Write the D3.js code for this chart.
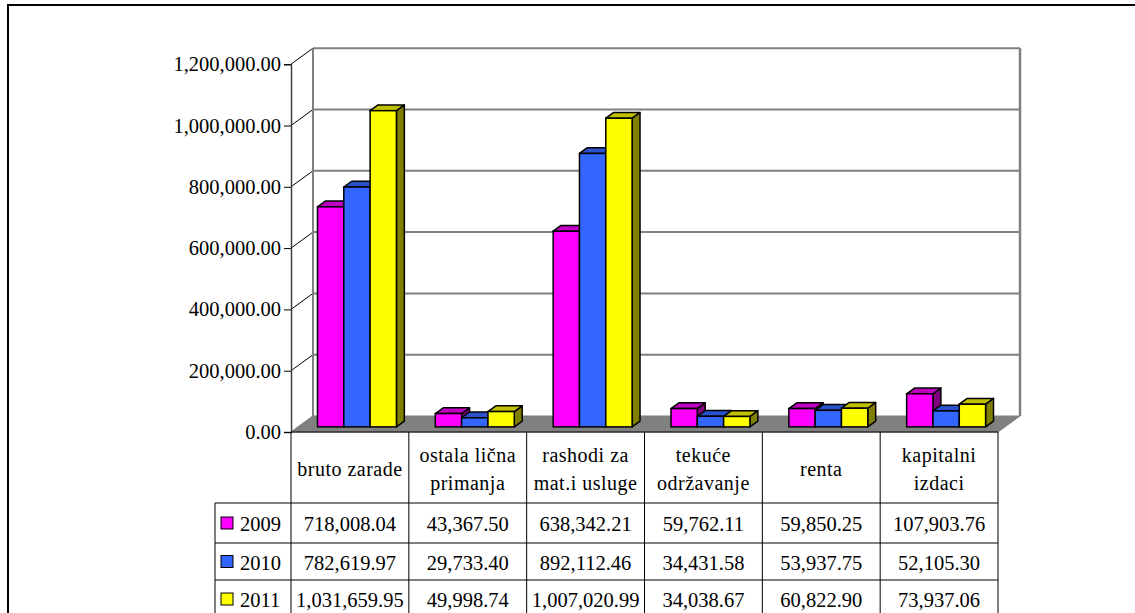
<!DOCTYPE html>
<html>
<head>
<meta charset="utf-8">
<script src="https://cdn.jsdelivr.net/npm/d3@7"></script>
<style>
  body { margin: 0; background: #fff; }
</style>
</head>
<body>
<div id="chart"></div>
<script>
// data
const categories = ['bruto zarade', 'ostala lična primanja', 'rashodi za mat.i usluge', 'tekuće održavanje', 'renta', 'kapitalni izdaci']
const categoryLines = [['bruto zarade'], ['ostala lična', 'primanja'], ['rashodi za', 'mat.i usluge'], ['tekuće', 'održavanje'], ['renta'], ['kapitalni', 'izdaci']]
const years = ['2009', '2010', '2011']
const values2009 = [718008.04, 43367.50, 638342.21, 59762.11, 59850.25, 107903.76]
const values2010 = [782619.97, 29733.40, 892112.46, 34431.58, 53937.75, 52105.30]
const values2011 = [1031659.95, 49998.74, 1007020.99, 34038.67, 60822.90, 73937.06]
const yTicks = [0, 200000, 400000, 600000, 800000, 1000000, 1200000]

const series = [values2009, values2010, values2011]
const colors = [
  { front: '#ff00ff', top: '#c000c0', side: '#800080' },
  { front: '#3366ff', top: '#2952cc', side: '#1a3380' },
  { front: '#ffff00', top: '#c0c000', side: '#808000' }
]

const width = 1135
const height = 613
const plot = { left: 291, right: 998, top: 64.2, bottom: 432 }
const depth = { dx: 22, dy: -16 }
const rowY = [503, 543, 580, 618]
const legendLeft = 215
const fmt = d3.format(',.2f')
const serif = 'Liberation Serif'

const svg = d3.select('#chart').append('svg')
  .attr('width', width)
  .attr('height', height)

// outer frame
svg.append('rect')
  .attr('x', 8).attr('y', 5)
  .attr('width', 1140).attr('height', 620)
  .attr('fill', 'none').attr('stroke', '#000').attr('stroke-width', 2)

const yScale = d3.scaleLinear().domain([0, 1200000]).range([plot.bottom, plot.top])
const xScale = d3.scaleBand().domain(categories).range([plot.left, plot.right])
const bw = xScale.bandwidth()
const xSub = d3.scaleBand().domain(years).range([bw * 0.165, bw * 0.835])

function translation (x, y) {
  return 'translate(' + x + ',' + y + ')'
}

function pts (arr) {
  return arr.map(function (p) { return p.join(',') }).join(' ')
}

function label (sel, size) {
  return sel.attr('font-family', serif).attr('font-size', size).attr('fill', '#000')
}

// walls
const grid = svg.append('g')
grid.append('polygon')
  .attr('points', pts([[plot.left, plot.bottom], [plot.right, plot.bottom],
    [plot.right + depth.dx, plot.bottom + depth.dy], [plot.left + depth.dx, plot.bottom + depth.dy]]))
  .attr('fill', '#808080')
  .attr('stroke', '#808080')

yTicks.forEach(function (t) {
  const y = yScale(t)
  if (t > 0) {
    grid.append('line')
      .attr('x1', plot.left + depth.dx).attr('x2', plot.right + depth.dx)
      .attr('y1', y + depth.dy).attr('y2', y + depth.dy)
      .attr('stroke', '#808080').attr('stroke-width', 2)
  }
  grid.append('line')
    .attr('x1', plot.left).attr('x2', plot.left + depth.dx)
    .attr('y1', y).attr('y2', y + depth.dy)
    .attr('stroke', t > 0 ? '#000' : '#808080').attr('stroke-width', 1)
})
grid.append('line')
  .attr('x1', plot.left + depth.dx).attr('x2', plot.left + depth.dx)
  .attr('y1', yScale(1200000) + depth.dy).attr('y2', plot.bottom + depth.dy)
  .attr('stroke', '#808080').attr('stroke-width', 2)
grid.append('line')
  .attr('x1', plot.right + depth.dx).attr('x2', plot.right + depth.dx)
  .attr('y1', yScale(1200000) + depth.dy).attr('y2', plot.bottom + depth.dy)
  .attr('stroke', '#808080').attr('stroke-width', 2.5)

// y axis
const yAxis = d3.axisLeft(yScale)
  .tickValues(yTicks)
  .tickFormat(fmt)
  .tickSize(7)
  .tickPadding(3)
const yAxisG = svg.append('g')
  .attr('transform', translation(plot.left, 0))
  .call(yAxis)
yAxisG.select('.domain').attr('stroke', '#404040').attr('stroke-width', 1.5)
yAxisG.selectAll('.tick line').attr('stroke', '#000')
label(yAxisG.selectAll('.tick text'), 20.5)

// bars
const bf = 0.32
const bd = 0.36
const ox = depth.dx * bf
const oy = depth.dy * bf
const bx = depth.dx * bd
const by = depth.dy * bd
const sw = xSub.bandwidth()

categories.forEach(function (c, ci) {
  const g = svg.append('g').attr('transform', translation(xScale(c) + ox, oy))
  series.forEach(function (vals, si) {
    const x0 = xSub(years[si])
    const x1 = x0 + sw
    const yt = yScale(vals[ci])
    const yb = yScale(0)
    const col = colors[si]
    g.append('polygon')
      .attr('points', pts([[x1, yt], [x1 + bx, yt + by], [x1 + bx, yb + by], [x1, yb]]))
      .attr('fill', col.side).attr('stroke', '#000').attr('stroke-width', 1.5).attr('stroke-linejoin', 'round')
    g.append('polygon')
      .attr('points', pts([[x0, yt], [x1, yt], [x1 + bx, yt + by], [x0 + bx, yt + by]]))
      .attr('fill', col.top).attr('stroke', '#000').attr('stroke-width', 1.5).attr('stroke-linejoin', 'round')
    g.append('rect')
      .attr('x', x0).attr('y', yt)
      .attr('width', sw).attr('height', yb - yt)
      .attr('fill', col.front).attr('stroke', '#000').attr('stroke-width', 1.5)
  })
})

// data table
const table = svg.append('g')
const tline = function (x1, y1, x2, y2) {
  table.append('line')
    .attr('x1', x1).attr('y1', y1).attr('x2', x2).attr('y2', y2)
    .attr('stroke', '#000').attr('stroke-width', 1)
}
tline(plot.left, plot.bottom, plot.right, plot.bottom)
tline(legendLeft, rowY[0], legendLeft, rowY[3])
rowY.slice(0, 3).forEach(function (y) { tline(legendLeft, y, plot.right, y) })
categories.forEach(function (c) { tline(xScale(c), plot.bottom, xScale(c), rowY[3]) })
tline(plot.right, plot.bottom, plot.right, rowY[3])

categories.forEach(function (c, ci) {
  const lines = categoryLines[ci]
  const cx = xScale(c) + bw / 2
  const cy = 469
  lines.forEach(function (l, li) {
    label(table.append('text'), 20)
      .attr('x', cx)
      .attr('y', cy + (li - (lines.length - 1) / 2) * 28)
      .attr('dy', '0.35em')
      .attr('text-anchor', 'middle')
      .attr('letter-spacing', 0.5)
      .text(l)
  })
})

series.forEach(function (vals, si) {
  const cy = (rowY[si] + rowY[si + 1]) / 2 + 1
  table.append('rect')
    .attr('x', 221).attr('y', cy - 7)
    .attr('width', 12).attr('height', 12)
    .attr('fill', colors[si].front).attr('stroke', '#000').attr('stroke-width', 1)
  label(table.append('text'), 20.5)
    .attr('x', 240).attr('y', cy)
    .attr('dy', '0.35em')
    .text(years[si])
  vals.forEach(function (v, ci) {
    label(table.append('text'), 20.5)
      .attr('x', xScale(categories[ci]) + bw / 2)
      .attr('y', cy)
      .attr('dy', '0.35em')
      .attr('text-anchor', 'middle')
      .text(fmt(v))
  })
})
</script>
</body>
</html>
